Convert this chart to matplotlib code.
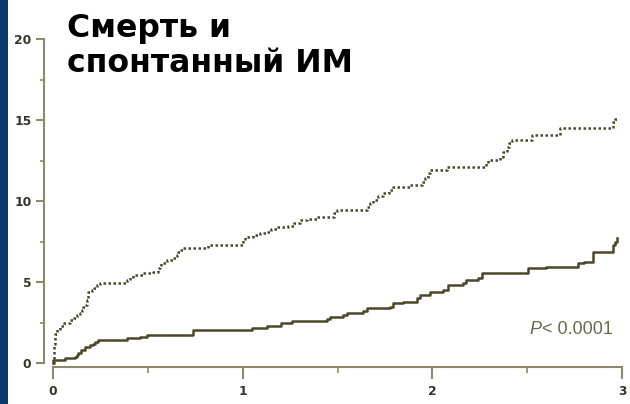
import matplotlib
matplotlib.use("Agg")
import matplotlib.pyplot as plt
from matplotlib.patches import Rectangle
from matplotlib.ticker import MultipleLocator

# Cumulative event rate (%) over time (years), step changes
t_upper = [0, 0.003, 0.006, 0.01, 0.02, 0.035, 0.06, 0.09, 0.11, 0.125, 0.14, 0.151,
           0.16, 0.169, 0.178, 0.182, 0.186, 0.204, 0.215, 0.23, 0.248, 0.389, 0.405,
           0.423, 0.476, 0.529, 0.555, 0.562, 0.567, 0.599, 0.634, 0.652, 0.66, 0.669,
           0.687, 0.819, 1.0, 1.012, 1.056, 1.09, 1.126, 1.15, 1.179, 1.24, 1.27, 1.302,
           1.34, 1.39, 1.46, 1.48, 1.496, 1.654, 1.67, 1.689, 1.715, 1.741, 1.77, 1.794,
           1.882, 1.943, 1.96, 1.978, 1.987, 2.075, 2.283, 2.295, 2.356, 2.375, 2.392,
           2.405, 2.418, 2.523, 2.673, 2.954, 2.965, 2.975]
y_upper = [0, 0.6, 1.2, 1.8, 2.1, 2.3, 2.5, 2.65, 2.8, 2.95, 3.1, 3.27,
           3.45, 3.6, 3.9, 4.2, 4.4, 4.5, 4.65, 4.8, 4.92, 5.12, 5.3,
           5.43, 5.53, 5.64, 5.85, 6.0, 6.15, 6.36, 6.46, 6.67, 6.85, 6.98,
           7.08, 7.28, 7.6, 7.8, 7.9, 8.0, 8.1, 8.25, 8.37, 8.46, 8.65, 8.83,
           8.9, 8.99, 9.03, 9.25, 9.44, 9.65, 9.85, 10.06, 10.3, 10.51, 10.7, 10.88,
           10.99, 11.19, 11.45, 11.7, 11.91, 12.12, 12.35, 12.53, 12.73, 13.05, 13.35,
           13.55, 13.77, 14.07, 14.48, 14.9, 15.06, 15.06]

t_lower = [0, 0.002, 0.063, 0.116, 0.125, 0.133, 0.15, 0.169, 0.195, 0.21, 0.221,
           0.239, 0.389, 0.459, 0.494, 0.74, 1.05, 1.13, 1.2, 1.26, 1.443, 1.46,
           1.53, 1.548, 1.636, 1.654, 1.776, 1.794, 1.846, 1.917, 1.934, 1.987,
           2.057, 2.084, 2.163, 2.18, 2.242, 2.26, 2.505, 2.6, 2.769, 2.8, 2.848,
           2.954, 2.965, 2.975]
y_lower = [0, 0.2, 0.3, 0.4, 0.5, 0.6, 0.8, 1.0, 1.11, 1.2, 1.31,
           1.42, 1.52, 1.62, 1.73, 2.04, 2.15, 2.3, 2.45, 2.6, 2.7, 2.86,
           2.96, 3.1, 3.23, 3.37, 3.48, 3.68, 3.78, 3.99, 4.2, 4.4,
           4.51, 4.81, 4.92, 5.12, 5.23, 5.53, 5.85, 5.94, 6.15, 6.25, 6.87,
           7.28, 7.5, 7.7]

x_ticks = [0, 1, 2, 3]
y_ticks = [0, 5, 10, 15, 20]
title_lines = ["Смерть и", "спонтанный ИМ"]
p_label = "P"
p_rest = "< 0.0001"

W, H = 630, 404
fig = plt.figure(figsize=(W / 100, H / 100), dpi=100)
fig.patch.set_facecolor("white")

# navy strip along the left edge
fig.patches.append(Rectangle((0, 0), 8 / W, 1, transform=fig.transFigure,
                             facecolor="#0b3a70", edgecolor="none", zorder=0))

ax = fig.add_axes([53 / W, (H - 363) / H, (622 - 53) / W, (363 - 39) / H])

line_col = "#4a4828"
axis_col = "#8c8a6a"
label_col = "#35342a"

ax.step(t_upper, y_upper, where="post", color=line_col, lw=1.8,
        linestyle=(0, (1, 1)), solid_capstyle="butt", clip_on=False)
ax.step(t_lower, y_lower, where="post", color=line_col, lw=1.8, clip_on=False)

ax.set_xlim(0, 3)
ax.set_ylim(0, 20)
ax.set_xticks(x_ticks)
ax.set_yticks(y_ticks)
ax.xaxis.set_minor_locator(MultipleLocator(0.5))
ax.yaxis.set_minor_locator(MultipleLocator(2.5))

for s in ("top", "right"):
    ax.spines[s].set_visible(False)
ax.spines["left"].set_position(("outward", 6.5))
ax.spines["bottom"].set_position(("outward", 3))
for s in ("left", "bottom"):
    ax.spines[s].set_color(axis_col)
    ax.spines[s].set_linewidth(1.5)

ax.tick_params(axis="y", which="major", length=6, width=1.5, color=axis_col,
               pad=3, labelsize=8.8, labelcolor=label_col)
ax.tick_params(axis="y", which="minor", length=3, width=1.2, color=axis_col)
ax.tick_params(axis="x", which="major", length=8.5, width=1.5, color=axis_col,
               pad=4.5, labelsize=8.8, labelcolor=label_col)
ax.tick_params(axis="x", which="minor", length=4, width=1.2, color=axis_col)
for lab in ax.get_xticklabels() + ax.get_yticklabels():
    lab.set_fontweight("bold")
    lab.set_family("DejaVu Sans")

# title block
fig.text(67 / W, 1 - 37 / H, title_lines[0], fontsize=22.7, fontweight="bold",
         family="DejaVu Sans", color="black", va="baseline", ha="left")
fig.text(67 / W, 1 - 72 / H, title_lines[1], fontsize=22.7, fontweight="bold",
         family="DejaVu Sans", color="black", va="baseline", ha="left")

# significance note
fig.text(541 / W, 1 - 334 / H, p_label, fontsize=13, style="italic",
         family="Liberation Sans", color="#6a6950", va="baseline", ha="right")
fig.text(542.5 / W, 1 - 334 / H, p_rest, fontsize=13,
         family="Liberation Sans", color="#6a6950", va="baseline", ha="left")

fig.savefig("out.png", dpi=100)
